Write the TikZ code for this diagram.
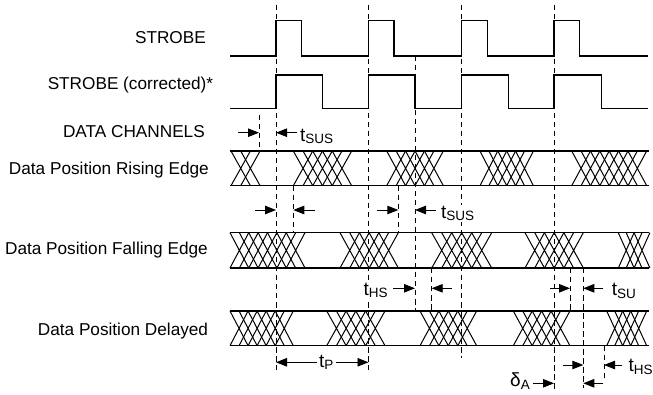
\documentclass[tikz,border=0pt]{standalone}
\usepackage{fontspec}
\setmainfont{Liberation Sans}
\usetikzlibrary{arrows.meta}
% group of N overlapping X transitions: x0, N, step, ytop, ybot
\newcommand{\xgrp}[5]{%
  \foreach \k in {1,...,#2}{%
    \pgfmathsetmacro{\xa}{#1+(\k-1)*#3}%
    \pgfmathsetmacro{\xb}{\xa+2*#3}%
    \draw[xline] (\xa,#4) -- (\xb,#5) (\xa,#5) -- (\xb,#4);
  }}
\newcommand{\sym}[2]{{\fontsize{19}{19}\selectfont #1}\raisebox{-2.5pt}{\fontsize{13.5}{13.5}\selectfont #2}}
\newcommand{\darr}[4]{\coordinate (#1a) at (#2,#4); \coordinate (#1b) at (#3,#4); \draw[dimarrow] (#1a) -- (#1b);}
\newcommand{\guide}[4]{\coordinate (#1t) at (#2,#3); \coordinate (#1b) at (#2,#4); \draw[guideline] (#1t) -- (#1b);}
\begin{document}
\begin{tikzpicture}[x=1pt,y=-1pt,
  lbl/.style={inner sep=0pt, font=\fontsize{17.2}{20}\selectfont},
  symlbl/.style={inner sep=1.5pt, fill=white},
  sigline/.style={line width=1.1pt, line join=miter},
  rowline/.style={line width=1.4pt},
  xline/.style={line width=1pt},
  guideline/.style={line width=0.9pt, dash pattern=on 5.5pt off 3.5pt},
  dimarrow/.style={line width=0.9pt, -{Triangle[length=11pt,width=8.5pt]}}]
\useasboundingbox (0,0) rectangle (653,395);
\fill[white] (0,0) rectangle (653,395);

% dashed guide lines
\guide{g1}{259}{115}{151}
\guide{g2}{276}{5}{370}
\guide{g3}{293.3}{185.7}{232.7}
\guide{g4}{368.5}{5}{370}
\guide{g5}{398.3}{185.7}{232.7}
\guide{g6}{415}{56}{311}
\guide{g7}{431.7}{268}{311}
\guide{g8}{461.7}{5}{358}
\guide{g9}{554}{5}{390}
\guide{g10}{570}{268}{311}
\guide{g11}{583.3}{268}{388}
\guide{g12}{604}{345.7}{378}

% STROBE
\draw[sigline] (230,56) -- (276,56) -- (276,20.7) -- (301.7,20.7) -- (301.7,56)
  -- (368.5,56) -- (368.5,20.7) -- (394,20.7) -- (394,56)
  -- (461.7,56) -- (461.7,20.7) -- (487.3,20.7) -- (487.3,56)
  -- (554,56) -- (554,20.7) -- (579.3,20.7) -- (579.3,56) -- (648,56);
% STROBE corrected
\draw[sigline] (230,108.3) -- (276,108.3) -- (276,75) -- (322.7,75) -- (322.7,108.3)
  -- (368.5,108.3) -- (368.5,75) -- (415,75) -- (415,108.3)
  -- (461.7,108.3) -- (461.7,75) -- (508.3,75) -- (508.3,108.3)
  -- (554,108.3) -- (554,75) -- (601.7,75) -- (601.7,108.3) -- (648,108.3);

% Data row 1
\draw[rowline] (230,151) -- (649,151) (230,185.7) -- (649,185.7);
\xgrp{231}{2}{9.7}{151}{185.7}
\xgrp{293.3}{5}{9.73}{151}{185.7}
\xgrp{386.7}{5}{9.44}{151}{185.7}
\xgrp{480}{5}{8.9}{151}{185.7}
\xgrp{571.7}{7}{9.375}{151}{185.7}
% Data row 2
\draw[rowline] (230,232.7) -- (649,232.7) (230,268) -- (649,268);
\xgrp{230}{7}{9.375}{232.7}{268}
\xgrp{340}{5}{9.72}{232.7}{268}
\xgrp{431.7}{5}{10}{232.7}{268}
\xgrp{525}{5}{9.72}{232.7}{268}
\xgrp{618.3}{3}{7.9}{232.7}{268}
% Data row 3
\draw[rowline] (230,311) -- (649,311) (230,345.7) -- (649,345.7);
\xgrp{230}{6}{9.04}{311}{345.7}
\xgrp{326.7}{5}{9.72}{311}{345.7}
\xgrp{420}{5}{9.44}{311}{345.7}
\xgrp{513.3}{5}{9.44}{311}{345.7}
\xgrp{606.7}{4}{8}{311}{345.7}

% dimension arrows
\darr{a1}{238.3}{259}{132.7}
\darr{a2}{296.7}{276}{132.7}
\darr{a3}{255}{276}{210}
\darr{a4}{315}{293.3}{210}
\darr{a5}{376.7}{398.3}{210}
\darr{a6}{435.7}{415}{210}
\darr{a7}{393.3}{415}{288.3}
\darr{a8}{451.7}{431.7}{288.3}
\darr{a9}{550}{570}{288.3}
\darr{a10}{603.3}{583.3}{288.3}
\darr{a11}{317}{276}{362.3}
\darr{a12}{335.5}{368.5}{362.3}
\darr{a13}{563.3}{583.3}{365}
\darr{a14}{621.7}{604}{365}
\darr{a15}{533.3}{554}{383.3}
\darr{a16}{603.3}{583.3}{383.3}

% row labels
\node[lbl,anchor=base east] (l1) at (206,43.3) {STROBE};
\node[lbl,anchor=base east] (l2) at (213.3,89.3) {STROBE (corrected)*};
\node[lbl,anchor=base east] (l3) at (205,137.3) {DATA CHANNELS};
\node[lbl,anchor=base east] (l4) at (209,175) {Data Position Rising Edge};
\node[lbl,anchor=base east] (l5) at (208,255) {Data Position Falling Edge};
\node[lbl,anchor=base east] (l6) at (208.3,335) {Data Position Delayed};

% timing symbols
\node[symlbl,anchor=base west] (tsus1) at (298.5,141.5) {\sym{t}{SUS}};
\node[symlbl,anchor=base west] (tsus2) at (439.5,218.3) {\sym{t}{SUS}};
\node[symlbl,anchor=base west] (ths1) at (361.8,295) {\sym{t}{HS}};
\node[symlbl,anchor=base west] (tsu) at (610.2,295.5) {\sym{t}{SU}};
\node[symlbl,anchor=base west] (tp) at (317.5,367) {\sym{t}{P}};
\node[symlbl,anchor=base west] (ths2) at (627,371.7) {\sym{t}{HS}};
\node[symlbl,anchor=base west] (dA) at (508.5,386.7) {\sym{δ}{A}};
\end{tikzpicture}
\end{document}
